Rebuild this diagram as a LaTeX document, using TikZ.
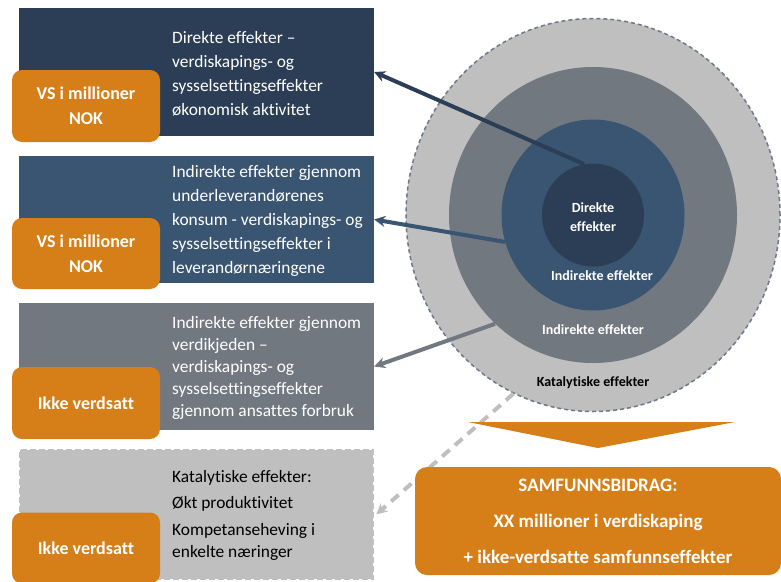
\documentclass[tikz,border=0pt]{standalone}
\usepackage{fontspec}
\setmainfont{Carlito}[Ligatures={NoCommon,NoContextual}, Contextuals=NoAlternate]
\usetikzlibrary{arrows.meta,shapes.geometric}

\definecolor{navy}{RGB}{44,62,85}
\definecolor{midblue}{RGB}{57,85,114}
\definecolor{slate}{RGB}{113,120,128}
\definecolor{lgray}{RGB}{191,191,191}
\definecolor{rimgray}{RGB}{110,120,134}
\definecolor{orangeC}{RGB}{214,126,24}

\tikzset{
	box/.style={minimum width=355pt, inner sep=0pt},
	tag/.style={fill=orangeC, rounded corners=10pt, minimum width=148pt, minimum height=72pt,
		text=white, align=center, font=\bfseries\fontsize{18}{25}\selectfont},
	txt/.style={anchor=west, align=left, inner sep=0pt, text=white, font=\fontsize{17.4}{24}\selectfont},
	ring/.style={ellipse, inner sep=0pt},
	lbl/.style={text=white, align=center, font=\bfseries\fontsize{14}{19}\selectfont},
	pil/.style={line width=4pt, -{Stealth[length=11pt,width=11pt]}}
}

\begin{document}
\begin{tikzpicture}[x=1pt, y=-1pt]
		\useasboundingbox (0,0) rectangle (781,581);

		% ringer
		\node[ring, fill=lgray, draw=rimgray, line width=1.5pt, dash pattern=on 4pt off 3pt,
			minimum width=374pt, minimum height=393pt] (ring4) at (593,215) {};
		\node[ring, fill=slate, minimum width=288pt, minimum height=296pt] (ring3) at (593,215) {};
		\node[ring, fill=midblue, minimum width=183pt, minimum height=191pt] (ring2) at (593,215) {};
		\node[ring, fill=navy, minimum width=102pt, minimum height=103pt] (ring1) at (593,215) {};

		\node[lbl] (l1) at (593,217) {Direkte\\effekter};
		\node[lbl] (l2) at (602,276) {Indirekte effekter};
		\node[lbl] (l3) at (593,330) {Indirekte effekter};
		\node[lbl, text=black] (l4) at (593,383) {Katalytiske effekter};

		% bokser
		\node[box, fill=navy, minimum height=128pt] (b1) at (196.5,72) {};
		\node[box, fill=midblue, minimum height=127pt] (b2) at (196.5,219.5) {};
		\node[box, fill=slate, minimum height=127pt] (b3) at (196.5,366.5) {};
		\node[box, fill=lgray, draw=lgray, line width=2.5pt, dash pattern=on 6pt off 3pt,
			minimum width=353pt, minimum height=129pt] (b4) at (196.5,514.5) {};

		\node[txt] (t1) at (172,73.5) {Direkte effekter --\\verdiskapings- og\\sysselsettingseffekter\\økonomisk aktivitet};
		\node[txt] (t2) at (172,220.5) {Indirekte effekter gjennom\\underleverandørenes\\konsum - verdiskapings- og\\sysselsettingseffekter i\\leverandørnæringene};
		\node[txt, font=\fontsize{17.4}{22}\selectfont] (t3) at (172,368) {Indirekte effekter gjennom\\verdikjeden --\\verdiskapings- og\\sysselsettingseffekter\\gjennom ansattes forbruk};
		\node[txt, text=black, font=\fontsize{17.4}{22}\selectfont] (t4) at (172,515) {Katalytiske effekter:\\[4.5pt]Økt produktivitet\\[4.5pt]Kompetanseheving i\\enkelte næringer};

		\node[tag] (v1) at (86,106) {VS i millioner\\NOK};
		\node[tag, minimum height=71pt] (v2) at (86,253.5) {VS i millioner\\NOK};
		\node[tag] (v3) at (86,403) {Ikke verdsatt};
		\node[tag, minimum height=71pt] (v4) at (86,548) {Ikke verdsatt};

		\draw[pil, navy] (ring1.100) -- (b1.east);
		\draw[pil, midblue] (ring2.197) -- (b2.east);
		\draw[pil, slate] (ring3.228) -- (b3.east);
		\draw[pil, lgray, dash pattern=on 10pt off 7pt] (ring4.246) -- ([xshift=2pt]b4.east);

		% samfunnsbidrag
		\fill[orangeC] (468,422) -- (735,422) -- (598,448) -- cycle;
		\node[fill=orangeC, rounded corners=12pt, minimum width=366pt, minimum height=108pt, inner sep=0pt,
			text=white, align=center, font=\bfseries\fontsize{19}{36}\selectfont] (sum) at (598,521)
			{SAMFUNNSBIDRAG:\\XX millioner i verdiskaping\\+ ikke-verdsatte samfunnseffekter};
	\end{tikzpicture}
\end{document}
